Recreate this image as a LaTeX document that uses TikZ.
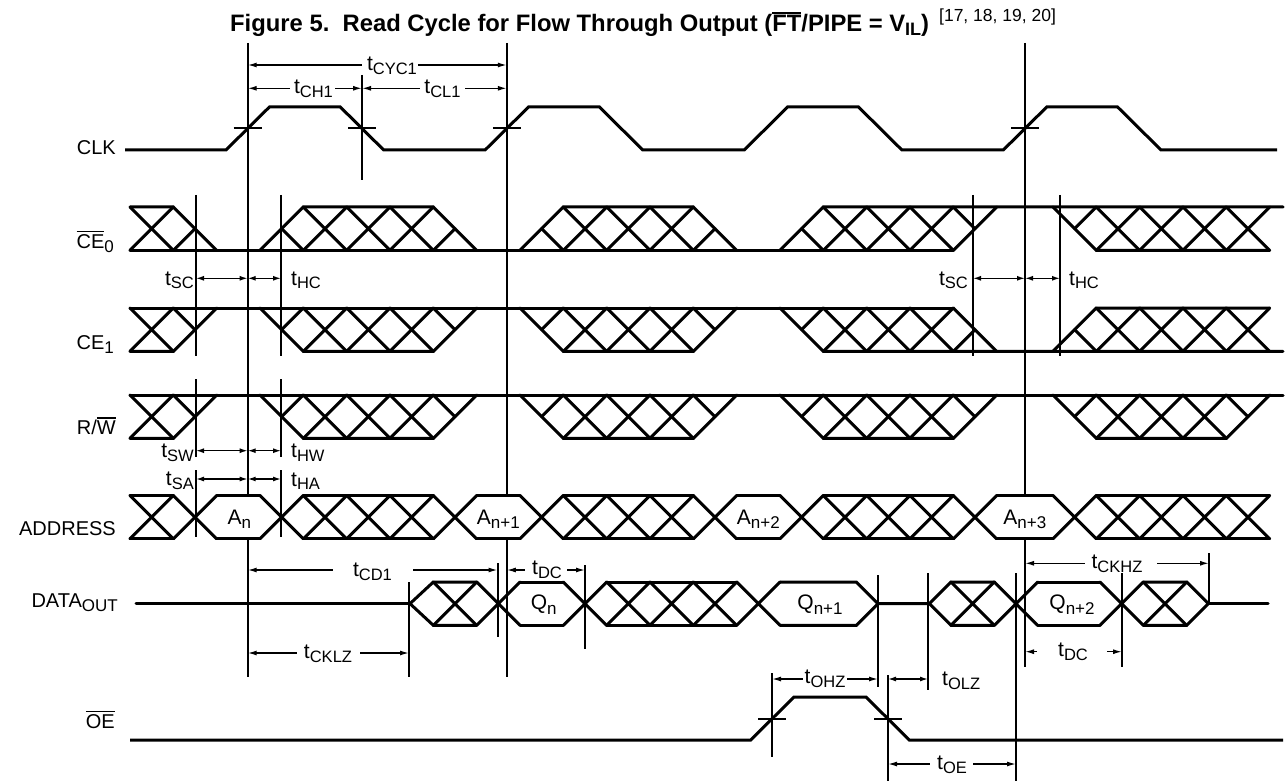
\documentclass[tikz,border=0pt]{standalone}
\usepackage{fontspec}
\setmainfont{Liberation Sans}
\usetikzlibrary{arrows.meta}
\newcommand\ovbar[1]{\leavevmode\vbox{\hrule height 1.6pt\kern 1.6pt\hbox{#1}}}
\newcommand\sbs[1]{\raisebox{-4.5pt}{\fontsize{17}{17}\selectfont #1}}
\newcommand\tlab[1]{{\fontsize{21}{21}\selectfont t}\raisebox{-3.5pt}{\fontsize{16.5}{16.5}\selectfont #1}}
\pgfmathdeclarefunction{U}{1}{\pgfmathparse{130+43.3333*(#1)}}
\def\hh{43.333}
\def\mm{21.667}
\newcommand\Xa[1]{\draw[sg] ({#1},0) -- ({#1+43.333},\hh) ({#1},\hh) -- ({#1+43.333},0);}
\newcommand\Xc[1]{\Xa{U(#1)}}
\newcommand\hatchreg[4]{%
  \draw[sg] ({U(#1)},#3) -- ({U(#1+1)},#4) -- ({U(#2-1)},#4) -- ({U(#2)},#3);
  \draw[sg] ({U(#1+0.5)},\mm) -- ({U(#1+1)},#3);
  \draw[sg] ({U(#2-1)},#3) -- ({U(#2-0.5)},\mm);
  \pgfmathtruncatemacro\nc{round(#2-#1)-3}%
  \foreach \i in {0,...,\nc}{\Xc{#1+1+\i}}%
}
% chip-enable style row: #1 = continuous level y, #2 = other level y
\newcommand\cerow[2]{%
  \draw[sg] ({U(0)},#1) -- ({U(19)},#1);
  \draw[sg] ({U(0)},#2) -- ({U(1)},#2) -- ({U(2)},#1);
  \Xc{0}
  \draw[sg] ({U(1)},#1) -- ({U(1.5)},\mm);
  \hatchreg{3}{8}{#1}{#2}
  \hatchreg{9}{14}{#1}{#2}
  \draw[sg] ({U(15)},#1) -- ({U(16)},#2) -- (1283,#2);
  \draw[sg] ({U(15.5)},\mm) -- ({U(16)},#1);
  \Xc{16}\Xc{17}\Xc{18}
  \draw[sg] ({U(19)},#1) -- ({U(20)},#2);
  \draw[sg] ({U(19)},#2) -- ({U(19.5)},\mm);
  \draw[sg] ({U(21.3)},#2) -- ({U(22.3)},#1) -- ({U(26.3)},#1);
  \draw[sg] ({U(21.8)},\mm) -- ({U(22.3)},#2);
  \Xc{22.3}\Xc{23.3}\Xc{24.3}\Xc{25.3}
}
\begin{document}
\begin{tikzpicture}[x=1pt,y=-1pt,
  sg/.style={line width=3pt, line cap=round, line join=miter},
  ref/.style={line width=2pt},
  dm/.style={line width=1.4pt},
  la/.style={{Latex[length=9pt,width=5pt]}-},
  ra/.style={-{Latex[length=9pt,width=5pt]}},
  lr/.style={{Latex[length=8pt,width=5pt]}-{Latex[length=8pt,width=5pt]}},
  lab/.style={inner sep=0pt, font=\fontsize{20}{24}\selectfont},
  tl/.style={inner sep=0pt}]
\fill[white] (0,0) rectangle (1286,781);
\useasboundingbox (0,0) rectangle (1286,781);

% title
\node[anchor=base west, inner sep=0pt] (title) at (230,32)
  {\fontsize{23.8}{26}\selectfont\bfseries Figure 5.\ \ Read Cycle for Flow Through Output (\ovbar{FT}/PIPE = V\raisebox{-4pt}{\fontsize{18}{18}\selectfont IL})\hspace{10pt}\raisebox{10pt}{\mdseries\fontsize{17.5}{17.5}\selectfont [17, 18, 19, 20]}};

% signal names
\node[lab, anchor=base east] (nclk) at (116,155) {CLK};
\node[lab, anchor=base east] (nce0) at (114,248) {\ovbar{CE}\sbs{0}};
\node[lab, anchor=base east] (nce1) at (114,349) {CE\sbs{1}};
\node[lab, anchor=base east] (nrw) at (116,434) {R/\ovbar{W}};
\node[lab, anchor=base east] (nadr) at (116,535) {ADDRESS};
\node[lab, anchor=base east] (ndat) at (118,607) {DATA\sbs{OUT}};
\node[lab, anchor=base east] (noe) at (115,728) {\ovbar{OE}};

% reference verticals
\foreach \x in {196,281}{
  \draw[ref] (\x,195) -- (\x,356) (\x,379) -- (\x,457) (\x,470) -- (\x,537);}
\foreach \x in {973,1060}{\draw[ref] (\x,195) -- (\x,356);}
\draw[ref] (362,75) -- (362,180);
\draw[ref] (247.7,43) -- (247.7,495.5) (247.7,538.8) -- (247.7,677);
\draw[ref] (506.8,43) -- (506.8,495.5) (506.8,538.8) -- (506.8,677);
\draw[ref] (1025,43) -- (1025,495.5) (1025,538.8) -- (1025,667);
\draw[ref] (409,582) -- (409,677);
\draw[ref] (497.5,563) -- (497.5,637);
\draw[ref] (585,565) -- (585,649);
\draw[ref] (878,575) -- (878,687);
\draw[ref] (928,573) -- (928,690);
\draw[ref] (1016,573) -- (1016,781);
\draw[ref] (1122,573) -- (1122,667);
\draw[ref] (1209,553) -- (1209,604);
\draw[ref] (772,673) -- (772,757);
\draw[ref] (888,675) -- (888,781);
% crosshairs
\foreach \x in {247.7,362,506.8,1025}{\draw[ref] (\x-14,128.5) -- (\x+14,128.5);}
\foreach \x in {772,888}{\draw[ref] (\x-14,718.5) -- (\x+14,718.5);}

% CLK
\draw[sg, line cap=butt] (125,150) -- (226,150) -- (269.4,107) -- (340.3,107) -- (383.7,150)
  -- (485.1,150) -- (528.5,107) -- (599.4,107) -- (642.8,150)
  -- (744.2,150) -- (787.6,107) -- (858.5,107) -- (901.9,150)
  -- (1003.3,150) -- (1046.7,107) -- (1117.6,107) -- (1161,150) -- (1277,150);

% CE0
\begin{scope}[shift={(0,207)}]\cerow{\hh}{0}\end{scope}
% CE1
\begin{scope}[shift={(0,308)}]\cerow{0}{\hh}\end{scope}
% R/W
\begin{scope}[shift={(0,395)}]
  \draw[sg] ({U(0)},0) -- (1283,0);
  \draw[sg] ({U(0)},\hh) -- ({U(1)},\hh) -- ({U(2)},0);
  \Xc{0}
  \draw[sg] ({U(1)},0) -- ({U(1.5)},\mm);
  \hatchreg{3}{8}{0}{\hh}
  \hatchreg{9}{14}{0}{\hh}
  \hatchreg{15}{20}{0}{\hh}
  \hatchreg{21.3}{26.3}{0}{\hh}
\end{scope}
% ADDRESS
\begin{scope}[shift={(0,495.5)}]
  \foreach \k in {0,1,3,4,5,6,7,9,10,11,12,13,15,16,17,18,19,21.3,22.3,23.3,24.3,25.3}{\Xc{\k}}
  \foreach \a/\b in {0/1,2/3,4/7,8/9,10/13,14/15,16/19,20/21.3,22.3/26.3}{
    \draw[sg] ({U(\a)},0) -- ({U(\b)},0) ({U(\a)},\hh) -- ({U(\b)},\hh);}
  \node[lab, font=\fontsize{21}{24}\selectfont, anchor=base] (a0) at ({U(2.5)+1},{\mm+7}) {A\sbs{n}};
  \node[lab, font=\fontsize{21}{24}\selectfont, anchor=base] (a1) at ({U(8.5)},{\mm+7}) {A\sbs{n+1}};
  \node[lab, font=\fontsize{21}{24}\selectfont, anchor=base] (a2) at ({U(14.5)},{\mm+7}) {A\sbs{n+2}};
  \node[lab, font=\fontsize{21}{24}\selectfont, anchor=base] (a3) at (1024.8,{\mm+7}) {A\sbs{n+3}};
\end{scope}
% DATA OUT
\begin{scope}[shift={(0,582)}]
  \draw[sg] (136,\mm) -- (410,\mm);
  \draw[sg] (410,\mm) -- ({U(7)},0) -- ({U(8)},0);
  \draw[sg] (410,\mm) -- ({U(7)},\hh) -- ({U(8)},\hh);
  \Xc{7}\Xc{8}
  \draw[sg] ({U(9)},0) -- ({U(10)},0) ({U(9)},\hh) -- ({U(10)},\hh);
  \Xc{10}
  \draw[sg] ({U(11)},0) -- ({U(14)},0) ({U(11)},\hh) -- ({U(14)},\hh);
  \Xc{11}\Xc{12}\Xc{13}\Xc{14}
  \draw[sg] ({U(15)},0) -- (856.3,0) -- (878,\mm) -- (856.3,\hh) -- ({U(15)},\hh);
  \draw[sg] (878,\mm) -- (929.3,\mm) -- (951,0) -- (994.3,0);
  \draw[sg] (929.3,\mm) -- (951,\hh) -- (994.3,\hh);
  \Xa{951}\Xa{994.3}
  \draw[sg] (1037.7,0) -- (1100,0) (1037.7,\hh) -- (1100,\hh);
  \Xa{1100}
  \draw[sg] (1143.3,0) -- (1186.7,0) -- (1208.3,\mm) -- (1186.7,\hh) -- (1143.3,\hh);
  \Xa{1143.3}
  \draw[sg] (1208.3,\mm) -- (1268,\mm);
  \node[lab, font=\fontsize{21}{24}\selectfont, anchor=base] (q0) at ({U(9.5)+2},{\mm+6}) {Q\sbs{n}};
  \node[lab, font=\fontsize{21}{24}\selectfont, anchor=base] (q1) at (820,{\mm+6}) {Q\sbs{n+1}};
  \node[lab, font=\fontsize{21}{24}\selectfont, anchor=base] (q2) at (1072,{\mm+6}) {Q\sbs{n+2}};
\end{scope}
% OE
\draw[sg, line cap=butt] (130,740) -- (750.7,740) -- (794,697) -- (866,697) -- (909.3,740) -- (1283,740);

% dimension arrows
\draw[dm,la] (247.7,65) -- (362,65);
\draw[dm,ra] (418,65) -- (506.8,65);
\node[tl] (tcyc) at (392,66) {\tlab{CYC1}};
\draw[dm,la] (247.7,88.3) -- (290,88.3);
\draw[dm,ra] (335,88.3) -- (362,88.3);
\node[tl] (tch) at (313.5,89) {\tlab{CH1}};
\draw[dm,la] (362,88.3) -- (420,88.3);
\draw[dm,ra] (465,88.3) -- (506.8,88.3);
\node[tl] (tcl) at (442.5,89) {\tlab{CL1}};

\foreach \y/\s/\h in {278.3/SC/HC,450.7/SW/HW,479/SA/HA}{
  \draw[dm,lr] (196,\y) -- (247.7,\y);
  \draw[dm,lr] (247.7,\y) -- (281,\y);
  \node[tl, anchor=east] (ts\s) at (194,\y+2) {\tlab{\s}};
  \node[tl, anchor=west] (th\h) at (291,\y+2) {\tlab{\h}};
}
\draw[dm,lr] (973,278.3) -- (1025,278.3);
\draw[dm,lr] (1025,278.3) -- (1060,278.3);
\node[tl, anchor=east] (tsc2) at (968,280.3) {\tlab{SC}};
\node[tl, anchor=west] (thc2) at (1069,280.3) {\tlab{HC}};

\draw[dm,la] (247.7,570) -- (333,570);
\draw[dm,ra] (413,570) -- (497.5,570);
\node[tl] (tcd) at (372.5,572) {\tlab{CD1}};
\draw[dm,la] (247.7,653) -- (297,653);
\draw[dm,ra] (360,653) -- (409,653);
\node[tl] (tcklz) at (328,654) {\tlab{CKLZ}};
\draw[dm,la] (506.8,570) -- (525,570);
\draw[dm,ra] (567,570) -- (585,570);
\node[tl] (tdc1) at (547,570) {\tlab{DC}};
\draw[dm,la] (1025,563.3) -- (1085,563.3);
\draw[dm,ra] (1157,563.3) -- (1209,563.3);
\node[tl] (tckhz) at (1117,564) {\tlab{CKHZ}};
\draw[dm,la] (1025,651.7) -- (1037,651.7);
\draw[dm,ra] (1107,651.7) -- (1122,651.7);
\node[tl] (tdc2) at (1073,652) {\tlab{DC}};
\draw[dm,la] (772,679) -- (803,679);
\draw[dm,ra] (847,679) -- (878,679);
\node[tl] (tohz) at (825,679) {\tlab{OHZ}};
\draw[dm,lr] (888,679) -- (928,679);
\node[tl, anchor=west] (tolz) at (942,681) {\tlab{OLZ}};
\draw[dm,la] (888,764) -- (930,764);
\draw[dm,ra] (973,764) -- (1016,764);
\node[tl] (toe) at (952,765) {\tlab{OE}};
\end{tikzpicture}
\end{document}
